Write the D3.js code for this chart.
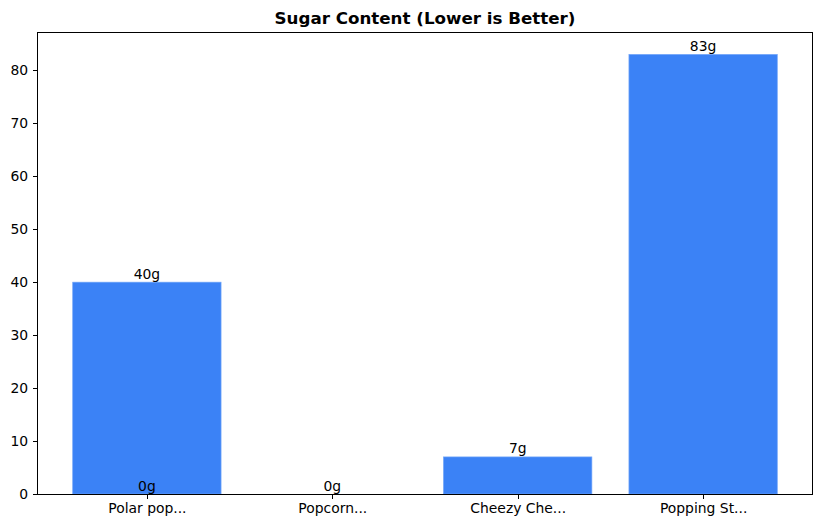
<!DOCTYPE html>
<html lang="en">
<head>
<meta charset="UTF-8">
<title>Sugar Content</title>
<style>
    body { margin: 0; background: #fff; }
    svg { display: block; font-family: "DejaVu Sans", sans-serif; }
    .axis { font-family: "DejaVu Sans", sans-serif; }
    .axis path, .axis line { stroke: #000; stroke-width: 1px; shape-rendering: crispEdges; }
    .axis text { font-size: 13.9px; fill: #000; }
    .bar { fill: #3b82f6; stroke: #6ea3f8; stroke-width: 0.7px; }
    .label { font-size: 13.9px; fill: #000; text-anchor: middle; }
</style>
</head>
<body>
<script src="https://d3js.org/d3.v7.min.js"></script>
<script>
    var categories = ["Polar pop...", "Popcorn...", "Cheezy Che...", "Popping St..."];
    var sugar = [40, 0, 7, 83];
    // extra labels drawn by the source chart (an overlapping "0g" on the first bar)
    var extraLabelIdx = [0];
    var extraLabelVal = [0];
    var yTicks = [0, 10, 20, 30, 40, 50, 60, 70, 80];

    var W = 822, H = 528;
    var margin = { top: 32.5, right: 9.5, bottom: 34, left: 37.5 };
    var width = W - margin.left - margin.right,
        height = H - margin.top - margin.bottom;

    var n = categories.length;
    // bars are 0.8 wide, plus a 5% margin on each side like matplotlib
    var x = d3.scaleLinear()
        .domain([-0.59, n - 1 + 0.59])
        .range([0, width]);

    var ymax = d3.max(sugar) * 1.05;
    var y = d3.scaleLinear().domain([0, ymax]).range([height, 0]);

    var svg = d3.select("body").append("svg")
        .attr("width", W).attr("height", H);

    svg.append("text")
        .attr("x", margin.left + width / 2)
        .attr("y", 24)
        .attr("text-anchor", "middle")
        .style("font-size", "16.7px")
        .style("font-weight", "bold")
        .text("Sugar Content (Lower is Better)");

    var g = svg.append("g")
        .attr("transform", "translate(" + margin.left + "," + margin.top + ")");

    g.selectAll(".bar")
        .data(sugar)
        .enter().append("rect")
        .attr("class", "bar")
        .attr("x", function(d, i) { return x(i - 0.4); })
        .attr("width", function(d, i) { return x(i + 0.4) - x(i - 0.4); })
        .attr("y", function(d) { return y(d); })
        .attr("height", function(d) { return y(0) - y(d); })
        .style("display", function(d) { return d > 0 ? null : "none"; });

    g.selectAll(".label")
        .data(sugar)
        .enter().append("text")
        .attr("class", "label")
        .attr("x", function(d, i) { return x(i); })
        .attr("y", function(d) { return y(d) - 3.5; })
        .text(function(d) { return d + "g"; });

    g.selectAll(".xlabel")
        .data(extraLabelVal)
        .enter().append("text")
        .attr("class", "label xlabel")
        .attr("x", function(d, i) { return x(extraLabelIdx[i]); })
        .attr("y", function(d) { return y(d) - 3.5; })
        .text(function(d) { return d + "g"; });

    var yAxis = g.append("g")
        .attr("class", "axis")
        .call(d3.axisLeft(y).tickValues(yTicks).tickSize(4.9).tickPadding(4.4));
    yAxis.select(".domain").remove();

    var xAxis = g.append("g")
        .attr("class", "axis")
        .attr("transform", "translate(0," + height + ")")
        .call(d3.axisBottom(x).tickValues(d3.range(n)).tickFormat(function(i) { return categories[i]; })
            .tickSize(4.9).tickPadding(4.4));
    xAxis.select(".domain").remove();

    // axes frame
    g.append("rect")
        .attr("width", width).attr("height", height)
        .attr("fill", "none").attr("stroke", "#000").attr("stroke-width", 1)
        .attr("shape-rendering", "crispEdges");
</script>
</body>
</html>
